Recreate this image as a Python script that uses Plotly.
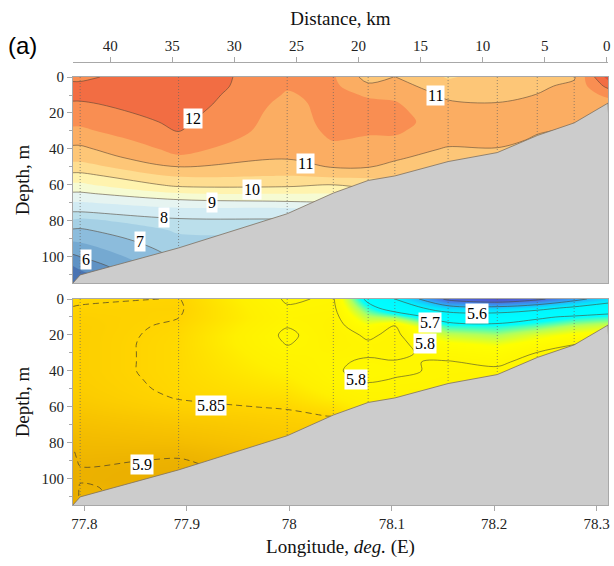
import plotly.graph_objects as go

# ---- section geometry -------------------------------------------------------
depths = [0, 5, 10, 15, 20, 25, 30, 35, 40, 45, 50, 55,
          60, 65, 70, 75, 80, 85, 90, 95, 100, 105, 110, 115]
grid_lon = [77.789, 77.796, 77.892, 77.998, 78.043, 78.077,
            78.103, 78.155, 78.203, 78.242, 78.278, 78.311]
seabed_depth = [114.5, 110, 95, 76, 64.5, 57.5, 55, 47, 42, 32.5, 25.5, 14.5]
station_lon = grid_lon[1:-1]
station_bottom = seabed_depth[1:-1]

# distance scale along the section (km), decreasing eastward
distance_ticks = [40, 35, 30, 25, 20, 15, 10, 5, 0]
distance_range = [43.0, -0.1]
lon_ticks = [77.8, 77.9, 78.0, 78.1, 78.2, 78.3]
lon_ticktext = ["77.8", "77.9", "78", "78.1", "78.2", "78.3"]

# ---- temperature profiles (deg C), one list per grid column ----------------
temp_profiles = [
    [11.90, 12.10, 12.15, 11.93, 11.77, 11.60, 11.40, 11.15, 10.90, 10.65, 10.30, 9.83,
     9.40, 8.90, 8.45, 7.99, 7.40, 6.95, 6.60, 6.25, 5.90, 5.50, 5.15, 4.90],
    [11.90, 12.10, 12.15, 11.93, 11.77, 11.60, 11.40, 11.15, 10.90, 10.65, 10.30, 9.83,
     9.40, 8.90, 8.45, 7.99, 7.33, 6.94, 6.63, 6.31, 5.99, 5.64, 5.33, 5.05],
    [12.40, 12.40, 12.35, 12.30, 12.20, 12.10, 12.01, 11.83, 11.65, 11.42, 10.99, 10.55,
     10.12, 9.43, 8.75, 8.27, 7.90, 7.57, 7.40, 7.25, 7.10, 6.95, 6.80, 6.65],
    [11.60, 11.55, 11.45, 11.35, 11.30, 11.28, 11.25, 11.20, 11.12, 11.03, 10.80, 10.49,
     10.12, 9.49, 8.90, 8.20, 7.95, 7.65, 7.35, 7.05, 6.80, 6.60, 6.40, 6.20],
    [11.55, 11.60, 11.65, 11.68, 11.68, 11.65, 11.60, 11.52, 11.38, 11.22, 11.03, 10.60,
     9.99, 9.49, 8.99, 8.49, 7.99, 7.60, 7.30, 6.99, 6.80, 6.60, 6.40, 6.20],
    [10.80, 11.10, 11.45, 11.60, 11.65, 11.62, 11.55, 11.45, 11.30, 11.15, 11.02, 10.60,
     10.20, 9.70, 9.20, 8.70, 8.20, 7.80, 7.40, 7.10, 6.80, 6.60, 6.40, 6.20],
    [11.01, 11.20, 11.40, 11.55, 11.60, 11.60, 11.55, 11.45, 11.25, 11.07, 10.85, 10.60,
     10.30, 9.90, 9.49, 8.99, 8.49, 7.99, 7.60, 7.30, 6.99, 6.80, 6.60, 6.40],
    [10.45, 10.70, 10.90, 11.08, 11.25, 11.35, 11.30, 11.15, 10.95, 10.75, 10.55, 10.30,
     9.99, 9.60, 9.20, 8.80, 8.40, 7.99, 7.60, 7.30, 6.99, 6.80, 6.60, 6.40],
    [10.70, 10.80, 10.90, 11.02, 11.15, 11.22, 11.20, 11.12, 10.98, 10.85, 10.70, 10.55,
     10.40, 10.20, 9.99, 9.80, 9.60, 9.40, 9.20, 8.99, 8.80, 8.60, 8.40, 8.20],
    [10.80, 10.92, 11.01, 11.12, 11.18, 11.15, 11.03, 10.95, 10.85, 10.75, 10.65, 10.55,
     10.45, 10.35, 10.25, 10.15, 10.05, 9.95, 9.85, 9.75, 9.65, 9.55, 9.45, 9.35],
    [10.95, 11.10, 11.20, 11.20, 11.15, 11.05, 10.95, 10.85, 10.75, 10.65, 10.55, 10.45,
     10.35, 10.25, 10.15, 10.05, 9.95, 9.85, 9.75, 9.65, 9.55, 9.45, 9.35, 9.25],
    [12.70, 12.15, 11.60, 11.30, 11.20, 11.10, 10.99, 10.90, 10.80, 10.70, 10.60, 10.50,
     10.40, 10.30, 10.20, 10.10, 10.01, 9.90, 9.80, 9.70, 9.60, 9.50, 9.40, 9.30],
]

# ---- salinity profiles, one list per grid column ----------------------------
sal_profiles = [
    [5.845, 5.851, 5.856, 5.858, 5.858, 5.858, 5.858, 5.858, 5.858, 5.859, 5.861, 5.865,
     5.870, 5.876, 5.882, 5.888, 5.895, 5.902, 5.905, 5.907, 5.908, 5.910, 5.912, 5.915],
    [5.846, 5.852, 5.856, 5.858, 5.858, 5.858, 5.858, 5.858, 5.858, 5.859, 5.861, 5.864,
     5.869, 5.875, 5.880, 5.885, 5.889, 5.893, 5.897, 5.902, 5.902, 5.898, 5.897, 5.897],
    [5.851, 5.8525, 5.8505, 5.847, 5.845, 5.844, 5.844, 5.844, 5.844, 5.845, 5.846, 5.849,
     5.855, 5.864, 5.872, 5.879, 5.886, 5.895, 5.902, 5.905, 5.907, 5.908, 5.909, 5.910],
    [5.797, 5.802, 5.806, 5.801, 5.796, 5.799, 5.806, 5.812, 5.818, 5.825, 5.832, 5.840,
     5.848, 5.855, 5.861, 5.866, 5.872, 5.878, 5.884, 5.890, 5.895, 5.901, 5.905, 5.910],
    [5.803, 5.806, 5.810, 5.812, 5.812, 5.810, 5.806, 5.803, 5.802, 5.805, 5.812, 5.822,
     5.836, 5.849, 5.858, 5.864, 5.870, 5.875, 5.880, 5.885, 5.890, 5.895, 5.901, 5.905],
    [5.685, 5.720, 5.750, 5.777, 5.796, 5.803, 5.803, 5.797, 5.795, 5.798, 5.805, 5.810,
     5.815, 5.820, 5.825, 5.830, 5.835, 5.840, 5.845, 5.849, 5.855, 5.860, 5.865, 5.870],
    [5.600, 5.670, 5.740, 5.801, 5.806, 5.807, 5.804, 5.799, 5.797, 5.801, 5.806, 5.810,
     5.815, 5.820, 5.825, 5.830, 5.835, 5.840, 5.845, 5.849, 5.855, 5.860, 5.865, 5.870],
    [5.380, 5.540, 5.670, 5.720, 5.755, 5.780, 5.793, 5.801, 5.803, 5.805, 5.808, 5.810,
     5.812, 5.814, 5.816, 5.818, 5.820, 5.822, 5.824, 5.826, 5.828, 5.830, 5.832, 5.834],
    [5.330, 5.530, 5.660, 5.715, 5.745, 5.770, 5.785, 5.796, 5.804, 5.810, 5.814, 5.816,
     5.818, 5.820, 5.822, 5.824, 5.826, 5.828, 5.830, 5.832, 5.834, 5.836, 5.838, 5.840],
    [5.380, 5.570, 5.690, 5.730, 5.765, 5.785, 5.801, 5.808, 5.812, 5.815, 5.818, 5.820,
     5.822, 5.824, 5.826, 5.828, 5.830, 5.832, 5.834, 5.836, 5.838, 5.840, 5.842, 5.844],
    [5.470, 5.620, 5.710, 5.750, 5.780, 5.799, 5.810, 5.815, 5.818, 5.820, 5.822, 5.824,
     5.826, 5.828, 5.830, 5.832, 5.834, 5.836, 5.838, 5.840, 5.842, 5.844, 5.846, 5.848],
    [5.550, 5.660, 5.720, 5.760, 5.790, 5.810, 5.815, 5.818, 5.820, 5.822, 5.824, 5.826,
     5.828, 5.830, 5.832, 5.834, 5.836, 5.838, 5.840, 5.842, 5.844, 5.846, 5.848, 5.851],
]

# contour labels: (level, longitude, depth)
temp_labels = [(12, 77.906, 22.8), (11, 78.143, 10.0), (11, 78.016, 47.8),
               (10, 77.964, 62.8), (9, 77.925, 69.5), (8, 77.878, 78.3),
               (7, 77.854, 91.7), (6, 77.802, 101.7)]
sal_labels = [(5.6, 78.183, 8.3), (5.7, 78.137, 12.8), (5.8, 78.132, 25.0),
              (5.8, 78.065, 45.0), (5.85, 77.924, 59.0), (5.9, 77.856, 92.0)]

# ---- styling ----------------------------------------------------------------
SERIF = "Liberation Serif, Times New Roman, serif"
FRAME = "#a8a8a8"
DEPTH_RANGE = [114.5, 0]
LON_RANGE = [77.789, 78.311]

temp_band_colors = ["#4a74b3", "#5f92c4", "#75a9d1", "#8cbcdc", "#a5d0e5", "#bbdfeb",
                    "#d2ebf3", "#e6f4f1", "#f6fbd2", "#fff3ae", "#fedd90", "#fdc677",
                    "#fbad62", "#f98e52", "#f26d43", "#e5503a"]
n_bands = len(temp_band_colors)
temp_colorscale = [[k / (n_bands - 1), c] for k, c in enumerate(temp_band_colors)]

# salinity colour ramp over 5.30 .. 5.95
sal_zmin, sal_zmax = 5.30, 5.95
sal_stops = [(5.30, "#5048c0"), (5.40, "#4a70e0"), (5.48, "#2fa8f8"), (5.55, "#08e0ff"),
             (5.60, "#00f8ff"), (5.71, "#00ffff"), (5.745, "#b0ff60"), (5.775, "#ffff00"),
             (5.82, "#fff000"), (5.85, "#ffd400"), (5.88, "#f6c000"), (5.91, "#e8ac00"),
             (5.95, "#d89a00")]
sal_colorscale = [[(v - sal_zmin) / (sal_zmax - sal_zmin), c] for v, c in sal_stops]


def rows(profiles):
    return [[col[i] for col in profiles] for i in range(len(depths))]


temp_z = rows(temp_profiles)
sal_z = rows(sal_profiles)

fig = go.Figure()

# ---- upper panel: temperature ----------------------------------------------
fig.add_trace(go.Contour(
    x=grid_lon, y=depths, z=temp_z, xaxis="x", yaxis="y",
    autocontour=False,
    contours=dict(start=5.5, end=12.5, size=0.5, coloring="fill", showlines=False),
    colorscale=temp_colorscale, showscale=False, line=dict(width=0),
    hoverinfo="skip",
))
fig.add_trace(go.Contour(
    x=grid_lon, y=depths, z=temp_z, xaxis="x", yaxis="y",
    autocontour=False,
    contours=dict(start=6, end=12, size=1, coloring="none", showlines=True),
    line=dict(color="rgba(80,65,50,0.7)", width=0.8),
    showscale=False, hoverinfo="skip",
))

# ---- lower panel: salinity --------------------------------------------------
fig.add_trace(go.Heatmap(
    x=grid_lon, y=depths, z=sal_z, xaxis="x2", yaxis="y2",
    zmin=sal_zmin, zmax=sal_zmax, zsmooth="best", colorscale=sal_colorscale,
    showscale=False, hoverinfo="skip",
))
fig.add_trace(go.Contour(
    x=grid_lon, y=depths, z=sal_z, xaxis="x2", yaxis="y2",
    autocontour=False,
    contours=dict(start=5.4, end=5.8, size=0.1, coloring="none", showlines=True),
    line=dict(color="rgba(70,70,50,0.75)", width=0.8),
    showscale=False, hoverinfo="skip",
))
fig.add_trace(go.Contour(
    x=grid_lon, y=depths, z=sal_z, xaxis="x2", yaxis="y2",
    autocontour=False,
    contours=dict(start=5.85, end=5.9, size=0.05, coloring="none", showlines=True),
    line=dict(color="rgba(80,70,40,0.85)", width=0.9, dash="6px,4px"),
    showscale=False, hoverinfo="skip",
))

# ---- seabed and station verticals in both panels -----------------------------
bed_x = [LON_RANGE[0] - 0.01] + grid_lon + [LON_RANGE[1] + 0.01, LON_RANGE[0] - 0.01]
bed_y = [seabed_depth[0]] + seabed_depth + [130, 130]
st_x, st_y = [], []
for lon, bottom in zip(station_lon, station_bottom):
    st_x += [lon, lon, None]
    st_y += [0, bottom, None]

for xa, ya in (("x", "y"), ("x2", "y2")):
    fig.add_trace(go.Scatter(
        x=st_x, y=st_y, xaxis=xa, yaxis=ya, mode="lines",
        line=dict(color="rgba(100,100,100,0.75)", width=0.9, dash="1px,2px"),
        hoverinfo="skip", showlegend=False,
    ))
    fig.add_trace(go.Scatter(
        x=bed_x, y=bed_y, xaxis=xa, yaxis=ya, mode="lines", fill="toself",
        fillcolor="#cccccc", line=dict(color="#7d7060", width=0.8),
        hoverinfo="skip", showlegend=False,
    ))

# carrier for the distance axis
fig.add_trace(go.Scatter(x=[], y=[], xaxis="x3", yaxis="y", showlegend=False))

# ---- labels -----------------------------------------------------------------
annotations = []
for level, lon, dep in temp_labels:
    annotations.append(dict(x=lon, y=dep, xref="x", yref="y", text=f"{level:g}",
                            showarrow=False, bgcolor="white", borderpad=1,
                            font=dict(family=SERIF, size=16, color="black")))
for level, lon, dep in sal_labels:
    annotations.append(dict(x=lon, y=dep, xref="x2", yref="y2", text=f"{level:g}",
                            showarrow=False, bgcolor="white", borderpad=1,
                            font=dict(family=SERIF, size=16, color="black")))
annotations.append(dict(x=-0.095, y=1.038, xref="paper", yref="paper", text="(a)",
                        showarrow=False, xanchor="center", yanchor="middle",
                        font=dict(family="Liberation Sans, Arial, sans-serif",
                                  size=24, color="black")))

tickfont = dict(family=SERIF, size=15, color="#222222")
titlefont = dict(family=SERIF, size=19, color="#111111")

depth_axis = dict(
    range=DEPTH_RANGE, tickvals=[0, 20, 40, 60, 80, 100],
    ticks="outside", ticklen=5, tickcolor=FRAME, tickfont=tickfont,
    minor=dict(dtick=10, tick0=0, ticks="outside", ticklen=3, tickcolor=FRAME),
    showline=True, linecolor=FRAME, linewidth=1, mirror=True,
    showgrid=False, zeroline=False,
    title=dict(text="Depth, m", font=titlefont, standoff=6),
)

fig.update_layout(
    width=614, height=566,
    margin=dict(l=73, r=3, t=62, b=61),
    paper_bgcolor="white", plot_bgcolor="white",
    showlegend=False,
    xaxis=dict(domain=[0, 1], anchor="y", range=LON_RANGE, showticklabels=False,
               ticks="", showline=True, linecolor=FRAME, mirror=True,
               showgrid=False, zeroline=False),
    yaxis=dict(domain=[0.5011, 0.9661], anchor="x", **depth_axis),
    xaxis2=dict(domain=[0, 1], anchor="y2", range=LON_RANGE,
                tickvals=lon_ticks, ticktext=lon_ticktext,
                ticks="outside", ticklen=5, tickcolor=FRAME, tickfont=tickfont,
                showline=True, linecolor=FRAME, mirror=True,
                showgrid=False, zeroline=False,
                title=dict(text="Longitude, <i>deg.</i> (E)", font=titlefont, standoff=8)),
    yaxis2=dict(domain=[0, 0.4650], anchor="x2", **depth_axis),
    xaxis3=dict(overlaying="x", anchor="free", position=1.0, side="top",
                range=distance_range, tickvals=distance_ticks,
                ticks="outside", ticklen=5, tickcolor=FRAME, tickfont=tickfont,
                showline=True, linecolor=FRAME, showgrid=False, zeroline=False,
                title=dict(text="Distance, km", font=titlefont, standoff=6)),
    annotations=annotations,
)

fig.write_html("out.html")
